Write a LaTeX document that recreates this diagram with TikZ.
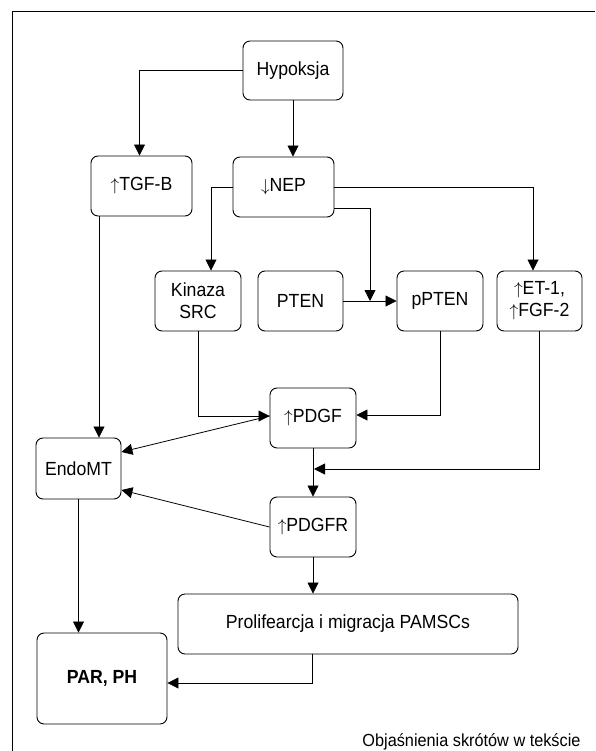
\documentclass[tikz,border=0pt]{standalone}
\usepackage{fontspec}
\setmainfont[FakeStretch=0.93]{Liberation Sans}
\usetikzlibrary{arrows.meta}

\tikzset{
  blok/.style={draw,rounded corners=7pt,align=center,inner sep=0pt,
    line width=0.9pt,minimum width=86pt,minimum height=60pt},
  strz/.style={-{Triangle[length=11pt,width=11pt]},line width=0.8pt},
}
\newcommand{\wgore}{\(\uparrow\)}
\newcommand{\wdol}{\(\downarrow\)}

\begin{document}
\begin{tikzpicture}[x=1pt,y=-1pt,font=\fontsize{19}{22}\selectfont]
    \useasboundingbox (0,0) rectangle (595,751);
    % ramka
    \draw[line width=0.9pt] (12,751)--(12,11)--(595,11);

    \node[blok,minimum width=100pt,minimum height=59pt] (hypoksja) at (293,70.5) {Hypoksja};
    \node[blok,minimum width=101pt] (tgf) at (141.5,186) {\wgore TGF-B};
    \node[blok,minimum width=101pt] (nep) at (283.5,187) {\wdol NEP};
    \node[blok] (kinaza) at (198,301) {Kinaza\\SRC};
    \node[blok,minimum width=85pt] (pten) at (300.5,301) {PTEN};
    \node[blok] (ppten) at (440,301) {pPTEN};
    \node[blok,minimum width=85pt] (etfgf) at (539.5,301) {\wgore ET-1,\\\wgore FGF-2};
    \node[blok] (pdgf) at (313,418) {\wgore PDGF};
    \node[blok] (pdgfr) at (313,527) {\wgore PDGFR};
    \node[blok,minimum width=85pt,minimum height=61pt] (endomt) at (78.5,468.5) {EndoMT};
    \node[blok,minimum width=130pt,minimum height=91pt,font=\fontsize{19}{22}\selectfont\bfseries]
      (parph) at (102,678.5) {PAR, PH};
    \node[blok,minimum width=340pt] (prolif) at (348,624) {Prolifearcja i migracja PAMSCs};
    \node[anchor=base east,font=\fontsize{17.5}{20}\selectfont] (objasnienia) at (584,746)
      {Objaśnienia skrótów w tekście};

    \coordinate (wezel) at (370,301);
    \coordinate (zbieg) at (314,469);

    \draw[strz] (hypoksja.west) -| ([xshift=-2pt]tgf.north);
    \draw[strz] (hypoksja.south) -- (hypoksja.south |- nep.north);
    \draw[strz] (nep.west) -| ([xshift=13pt]kinaza.north);
    \draw[strz] (nep.east) -| ([xshift=-6.5pt]etfgf.north);
    \draw[strz] ([yshift=-21pt]nep.east) -| (wezel);
    \draw[strz] (pten) -- (ppten);
    \draw[strz] (kinaza.south) |- ([yshift=2pt]pdgf.west);
    \draw[strz] (ppten.south) |- ([yshift=3pt]pdgf.east);
    \draw[strz] ([xshift=-0.5pt]etfgf.south) |- (zbieg);
    \draw[strz] (pdgf) -- (pdgfr);
    \draw[strz] ([yshift=2pt]pdgf.west) -- ([yshift=16.5pt]endomt.east);
    \draw[strz] (pdgfr.west) -- ([yshift=-21.5pt]endomt.east);
    \draw[strz] ([xshift=-42.5pt]tgf.south) -- ([xshift=-42.5pt]tgf.south |- endomt.north);
    \draw[strz] (endomt.south) -- (endomt.south |- parph.north);
    \draw[strz] (pdgfr.south) -- (pdgfr.south |- prolif.north);
    \draw[strz] ([xshift=-36pt]prolif.south) |- ([yshift=-4.5pt]parph.east);
\end{tikzpicture}
\end{document}
